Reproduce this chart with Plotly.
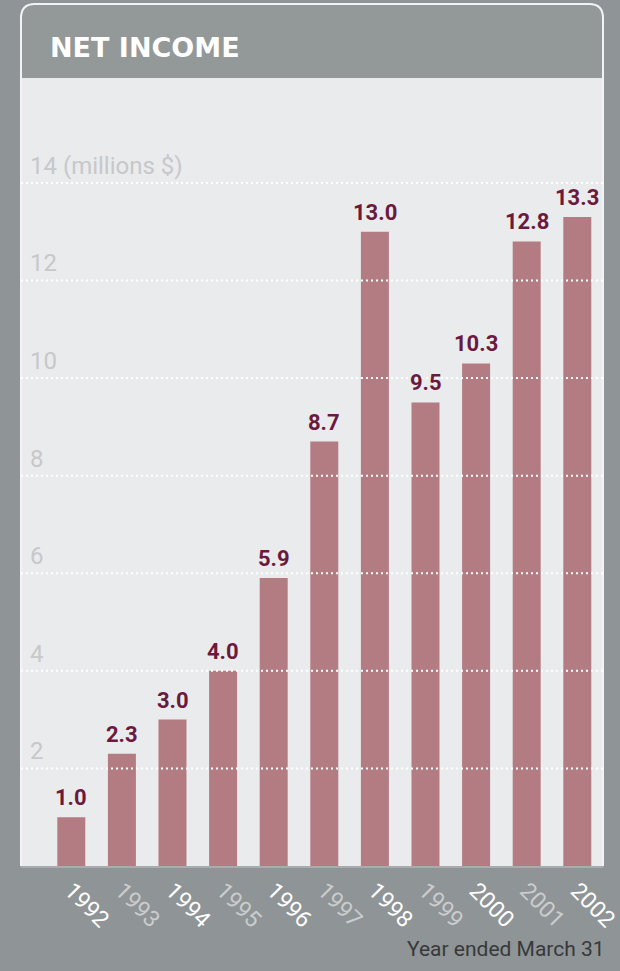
import plotly.graph_objects as go

# Net income by fiscal year (millions $)
years = ["1992", "1993", "1994", "1995", "1996", "1997",
         "1998", "1999", "2000", "2001", "2002"]
net_income = [1.0, 2.3, 3.0, 4.0, 5.9, 8.7, 13.0, 9.5, 10.3, 12.8, 13.3]

y_ticks = [2, 4, 6, 8, 10, 12, 14]
y_tick_text = ["2", "4", "6", "8", "10", "12", "14 (millions $)"]

BG = "#8f9496"
PANEL = "#eaebed"
BAR = "#b27c82"
LABEL = "#6b1a3d"
HEADER = "#939899"

# alternate white / pale grey year labels
year_colors = ["#ffffff" if i % 2 == 0 else "#cacccd" for i in range(len(years))]
year_text = [f"<span style='color:{c}'>{y}</span>" for y, c in zip(years, year_colors)]

fig = go.Figure()
fig.add_trace(go.Bar(
    x=years, y=net_income,
    marker=dict(color=BAR, line=dict(width=0)),
    width=0.553,
    hoverinfo="x+y",
))

annotations = []
# value labels above each bar (category index as x position)
for i, v in enumerate(net_income):
    annotations.append(dict(
        x=i, y=v, xref="x", yref="y",
        text=f"{v:.1f}", showarrow=False,
        yanchor="bottom", yshift=5,
        font=dict(family="Roboto, sans-serif", size=22, color=LABEL,
                  weight="bold"),
    ))

# value-axis labels sit just above their dotted grid line
for v, t in zip(y_ticks, y_tick_text):
    annotations.append(dict(
        x=0.012, xref="paper", xanchor="left",
        y=v, yref="y", yanchor="middle", yshift=17,
        text=t, showarrow=False,
        font=dict(family="Roboto, sans-serif", size=24, color="#c6c8ca"),
    ))

annotations.append(dict(
    x=1.0069, xref="paper", y=-0.105, yref="paper",
    text="Year ended March 31", showarrow=False,
    xanchor="right", yanchor="middle",
    font=dict(family="Roboto, sans-serif", size=21, color="#38393a"),
))

# header box geometry (paper coordinates of the plot area)
top = 1.0939
rx, ry = 0.024, 0.0178
header_path = (f"M 0,1 L 0,{top - ry} Q 0,{top} {rx},{top} "
               f"L {1 - rx},{top} Q 1,{top} 1,{top - ry} L 1,1 Z")
outline_path = (f"M 0,0 L 0,{top - ry} Q 0,{top} {rx},{top} "
                f"L {1 - rx},{top} Q 1,{top} 1,{top - ry} L 1,0")

shapes = [
    dict(type="path", xref="paper", yref="paper", path=header_path,
         fillcolor=HEADER, line=dict(width=0), layer="below"),
    dict(type="path", xref="paper", yref="paper", path=outline_path,
         line=dict(color="#f2f3f4", width=2), layer="above"),
]
# dotted grid drawn over the bars
for v in y_ticks:
    shapes.append(dict(
        type="line", xref="paper", x0=0, x1=1, yref="y", y0=v, y1=v,
        line=dict(color="#ffffff", width=2, dash="2px,3px"), layer="above",
    ))

fig.update_layout(
    width=620, height=971,
    margin=dict(l=21, r=17, t=78, b=105, autoexpand=False),
    paper_bgcolor=BG, plot_bgcolor=PANEL,
    showlegend=False,
    title=dict(
        text="NET INCOME", xref="container", yref="container",
        x=50 / 620, xanchor="left", y=1 - 47.5 / 971, yanchor="middle",
        font=dict(family="DejaVu Sans, sans-serif", size=27,
                  color="#ffffff", weight="bold"),
    ),
    xaxis=dict(
        type="category", range=[-0.994, 10.508], automargin=False,
        tickvals=years, ticktext=year_text, tickangle=45,
        ticks="", showgrid=False, zeroline=False,
        showline=True, linecolor="#a9acae", linewidth=2,
        tickfont=dict(family="Roboto, sans-serif", size=23),
        fixedrange=True,
    ),
    yaxis=dict(
        range=[0, 16.15], automargin=False,
        showticklabels=False, ticks="", showgrid=False,
        zeroline=False, showline=False, fixedrange=True,
    ),
    shapes=shapes,
    annotations=annotations,
    bargap=0.45,
)

fig.write_html("out.html")
